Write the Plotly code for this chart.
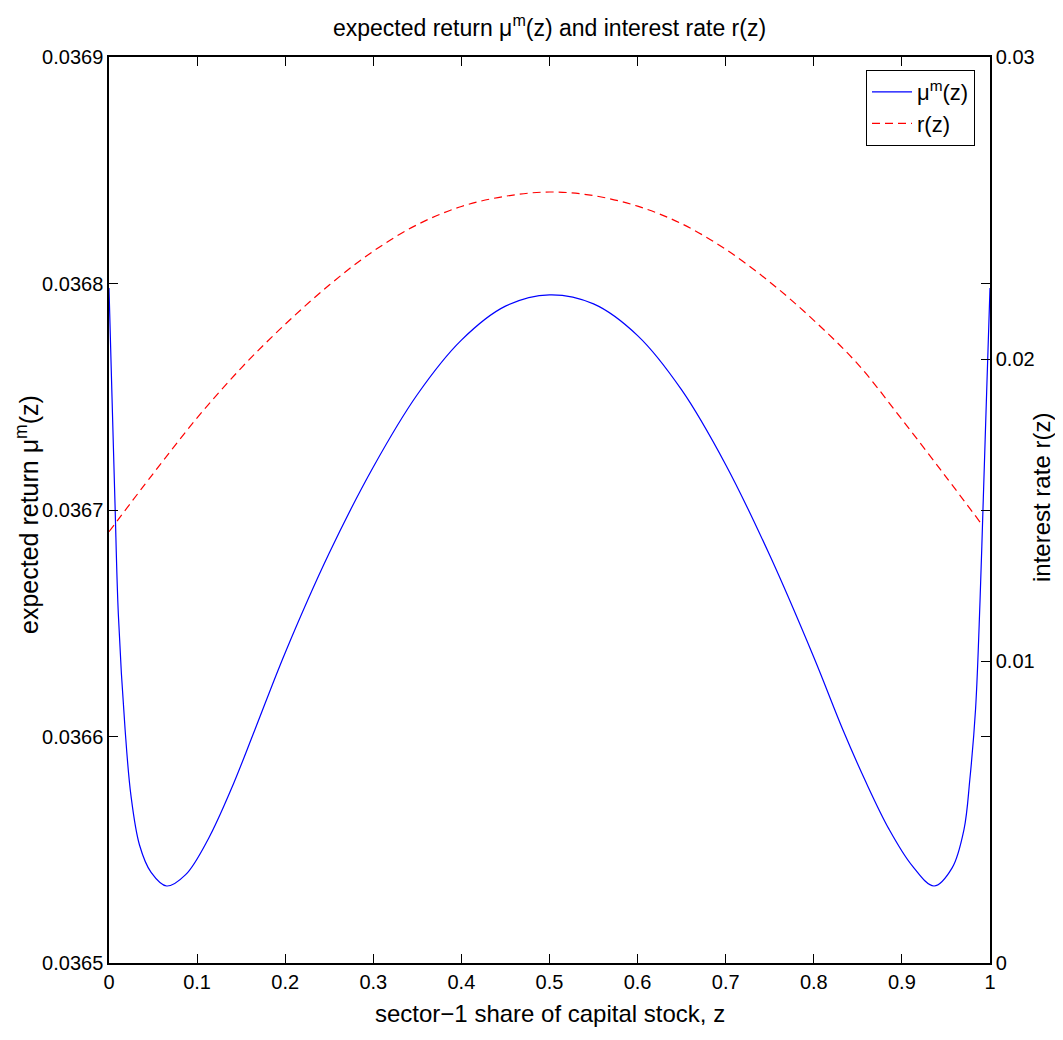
import plotly.graph_objects as go

# blue curve: expected return mu^m(z) (left axis)
z_mu = [0.000, 0.0034, 0.0068, 0.0106, 0.0183, 0.0249, 0.0347, 0.0478, 0.0654, 0.087,
        0.113, 0.139, 0.1656, 0.200, 0.250, 0.300, 0.350, 0.400, 0.450, 0.500,
        0.550, 0.600, 0.650, 0.700, 0.750, 0.800, 0.833, 0.859, 0.8855, 0.9116,
        0.9365, 0.957, 0.9705, 0.9771, 0.9836, 0.9887, 0.9924, 0.9962, 1.000]
mu_vals = [0.036798, 0.036750, 0.036703, 0.036654, 0.036603, 0.036574, 0.036552, 0.036540,
           0.036534, 0.036539, 0.036555, 0.036577, 0.036603, 0.036637, 0.036681, 0.036719,
           0.036751, 0.036775, 0.036790, 0.036795,
           0.036791, 0.036777, 0.036753, 0.036720, 0.036680, 0.036635, 0.036603, 0.036580,
           0.036559, 0.036543, 0.036534, 0.036542, 0.036559, 0.036581, 0.036612, 0.036660,
           0.036705, 0.036752, 0.036798]

# red dashed curve: interest rate r(z) (right axis)
z_r = [0.00, 0.05, 0.10, 0.15, 0.20, 0.25, 0.30, 0.35, 0.40, 0.45, 0.50,
       0.55, 0.60, 0.65, 0.70, 0.75, 0.80, 0.85, 0.90, 0.95, 0.99]
r_vals = [0.01428, 0.01620, 0.01805, 0.01970, 0.02115, 0.02245, 0.02357, 0.02445, 0.02505,
          0.02539, 0.02553,
          0.02541, 0.02506, 0.02448, 0.02363, 0.02255, 0.02128, 0.01983, 0.01800, 0.01610,
          0.01455]

x_ticks = [0, 0.1, 0.2, 0.3, 0.4, 0.5, 0.6, 0.7, 0.8, 0.9, 1]
x_ticktext = ["0", "0.1", "0.2", "0.3", "0.4", "0.5", "0.6", "0.7", "0.8", "0.9", "1"]
y1_ticks = [0.0365, 0.0366, 0.0367, 0.0368, 0.0369]
y1_ticktext = ["0.0365", "0.0366", "0.0367", "0.0368", "0.0369"]
y2_ticks = [0, 0.01, 0.02, 0.03]
y2_ticktext = ["0", "0.01", "0.02", "0.03"]

FONT = "Liberation Sans, Arial, Helvetica, sans-serif"

# the page body adds an 8px margin at left/top; figure is sized to fit the window
W, H = 1055, 1024
L, R, T, B = 101, 73, 49, 69
PW = W - L - R
PH = H - T - B

fig = go.Figure()
fig.add_trace(go.Scatter(x=z_mu, y=mu_vals, mode="lines", name="μ<sup>m</sup>(z)",
                         line=dict(color="#0000ff", width=1.2, shape="spline", smoothing=1.0),
                         yaxis="y"))
fig.add_trace(go.Scatter(x=z_r, y=r_vals, mode="lines", name="r(z)",
                         line=dict(color="#ff0000", width=1.2, dash="8px,5px",
                                   shape="spline", smoothing=1.0),
                         yaxis="y2"))

axis_common = dict(ticks="inside", ticklen=9, tickcolor="black", tickwidth=1,
                   showline=True, linecolor="black", linewidth=1.5,
                   showgrid=False, zeroline=False, automargin=False,
                   tickfont=dict(family=FONT, size=20, color="black"))

fig.update_layout(
    width=W, height=H,
    margin=dict(l=L, r=R, t=T, b=B, autoexpand=False),
    paper_bgcolor="white", plot_bgcolor="white",
    font=dict(family=FONT, size=20, color="black"),
    title=dict(text="expected return μ<sup>m</sup>(z) and interest rate r(z)",
               x=0.5, xref="paper", xanchor="center",
               y=1 - 20 / H, yref="container", yanchor="middle",
               font=dict(family=FONT, size=23, color="black")),
    xaxis=dict(range=[0, 1], tickvals=x_ticks, ticktext=x_ticktext, mirror="ticks",
               **axis_common),
    yaxis=dict(range=[0.0365, 0.0369], tickvals=y1_ticks, ticktext=y1_ticktext,
               mirror="ticks", **axis_common),
    yaxis2=dict(range=[0, 0.03], tickvals=y2_ticks, ticktext=y2_ticktext,
                overlaying="y", side="right", **axis_common),
    legend=dict(x=(858 - L) / PW, y=(H - B - 62) / PH, xanchor="left", yanchor="top",
                bordercolor="black", borderwidth=1, bgcolor="white",
                font=dict(family=FONT, size=22), tracegroupgap=0, itemwidth=40),
    showlegend=True,
    annotations=[
        dict(text="sector−1 share of capital stock, z", xref="paper", yref="paper",
             x=0.5, y=-(1005 - (H - B)) / PH, xanchor="center", yanchor="middle",
             showarrow=False, font=dict(family=FONT, size=24, color="black")),
        dict(text="expected return μ<sup>m</sup>(z)", xref="paper", yref="paper",
             x=(19 - L) / PW, y=(H - B - 507) / PH, xanchor="center",
             yanchor="middle", textangle=-90, showarrow=False,
             font=dict(family=FONT, size=25, color="black")),
        dict(text="interest rate r(z)", xref="paper", yref="paper",
             x=(1033 - L) / PW, y=(H - B - 490) / PH, xanchor="center",
             yanchor="middle", textangle=-90, showarrow=False,
             font=dict(family=FONT, size=24, color="black")),
    ],
)

fig.write_html("out.html")
